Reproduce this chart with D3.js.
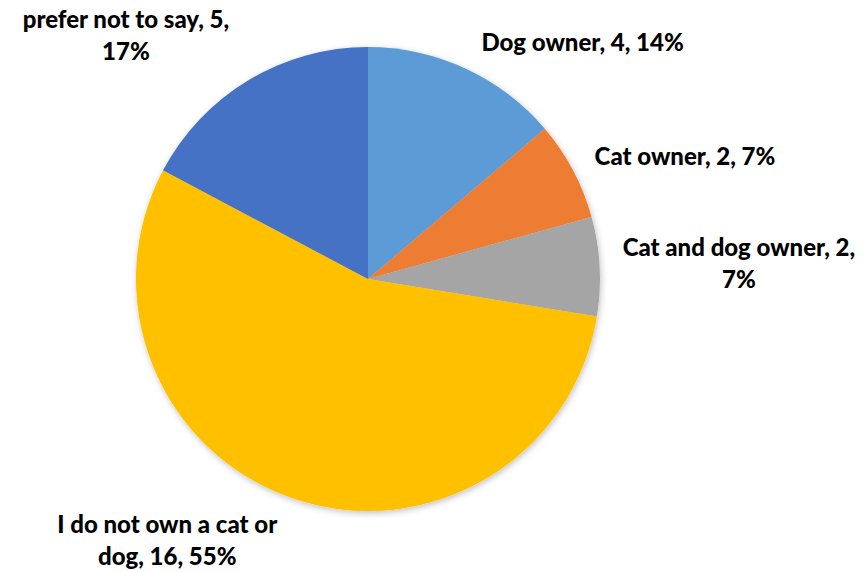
<!DOCTYPE html>
<html>
<head>
<meta charset="utf-8">
<script src="https://cdn.jsdelivr.net/npm/d3@7"></script>
<style>
  body { margin: 0; background: #fff; }
  text { font-family: Lato, "Open Sans", sans-serif; font-weight: 900; fill: #000; }
</style>
</head>
<body>
<div id="chart"></div>
<script>
// pet ownership answers
var categories = ["Dog owner", "Cat owner", "Cat and dog owner", "I do not own a cat or dog", "prefer not to say"];
var counts = [4, 2, 2, 16, 5];
var percents = ["14%", "7%", "7%", "55%", "17%"];
// how each label wraps (Excel style)
var labelLines = [
    ["Dog owner, 4, 14%"],
    ["Cat owner, 2, 7%"],
    ["Cat and dog owner, 2,", "7%"],
    ["I do not own a cat or", "dog, 16, 55%"],
    ["prefer not to say, 5,", "17%"]
];
var colors = ["#5B9BD5", "#ED7D31", "#A5A5A5", "#FFC000", "#4472C4"];

var width = 865
height = 572

var cx = 368, cy = 279, radius = 232;
var lineH = 32;

var svg = d3.select("#chart")
    .append("svg")
    .attr("width", width)
    .attr("height", height);

// soft shadow like the office chart
var defs = svg.append("defs");
var f = defs.append("filter").attr("id", "shadow")
    .attr("x", "-10%").attr("y", "-10%").attr("width", "120%").attr("height", "120%");
f.append("feDropShadow")
    .attr("dx", 1).attr("dy", 2).attr("stdDeviation", 3)
    .attr("flood-color", "#000").attr("flood-opacity", 0.25);

var g = svg.append("g")
    .attr("transform", "translate(" + cx + "," + cy + ")");

var data = categories.map((c, i) => ({ name: c, value: counts[i], pct: percents[i], lines: labelLines[i], color: colors[i] }));

var pie = d3.pie()
    .sort(null)
    .value(d => d.value);

var arc = d3.arc()
    .innerRadius(0)
    .outerRadius(radius);

var arcs = pie(data);

g.append("g")
    .attr("filter", "url(#shadow)")
    .selectAll("path")
    .data(arcs)
    .enter()
    .append("path")
    .attr("d", arc)
    .attr("fill", d => d.data.color);

// labels sit just outside the rim at the middle angle of each slice
arcs.forEach(d => {
    var a = (d.startAngle + d.endAngle) / 2;
    var px = Math.sin(a) * (radius + 12);
    var py = -Math.cos(a) * (radius + 12);
    var right = Math.sin(a) >= 0;
    var n = d.data.lines.length;
    var blockH = n * lineH;

    var t = g.append("text")
        .attr("font-size", "24px")
        .attr("text-anchor", "middle");

    d.data.lines.forEach((l, i) => {
        t.append("tspan").text(l);
    });

    // measure the widest line
    var tspans = t.selectAll("tspan").nodes();
    var w = d3.max(tspans, s => s.getComputedTextLength());
    var centerX = right ? px + 11 + w / 2 : px - 13 - w / 2;
    var centerY = py - Math.cos(a) * blockH / 2 - (Math.cos(a) > 0.8 && n > 1 ? 7 : 0);
    var top = centerY - blockH / 2;

    t.selectAll("tspan")
        .attr("x", centerX)
        .attr("y", (s, i) => top + i * lineH + lineH / 2 + 8);
});
</script>
</body>
</html>
